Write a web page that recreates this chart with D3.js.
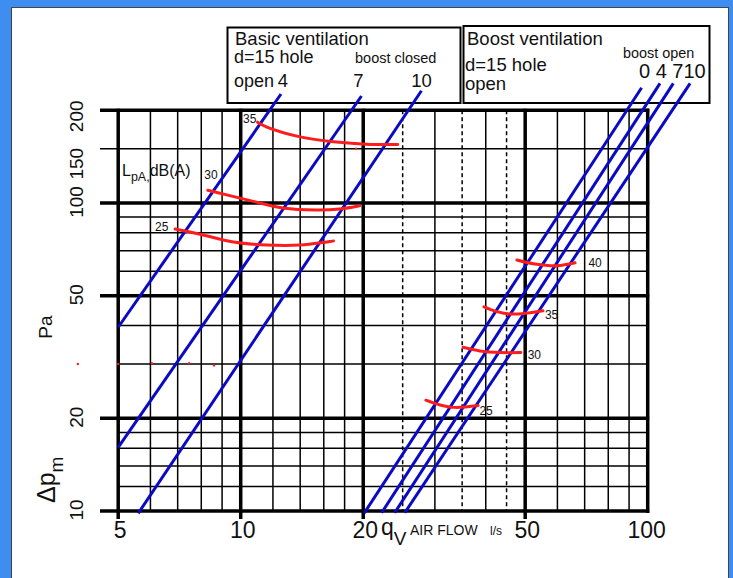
<!DOCTYPE html>
<html lang="en">
<head>
<meta charset="UTF-8">
<title>Pressure drop / air flow diagram</title>
<script src="https://cdnjs.cloudflare.com/ajax/libs/d3/7.8.5/d3.min.js"></script>
<style>
    * { margin: 0; padding: 0; box-sizing: border-box; }
    body { background: #3d8ef0; overflow: hidden; }
    svg { display: block; }
    text { font-family: Arial, "Liberation Sans", sans-serif; fill: #111; }
</style>
</head>
<body>
<svg id="chart" width="733" height="578"></svg>
<script>
// axis ticks and grid (l/s on x, Pa on y)
const xTicks = [5, 10, 20, 50, 100];
const yTicks = [10, 20, 50, 100, 150, 200];
const xGrid = [5, 6, 7, 8, 9, 10, 12, 14, 16, 18, 20, 30, 40, 50, 60, 70, 80, 90, 100];
const xDashed = [25, 35, 45];
const xMajor = [5, 10, 20, 50, 100];
const yGrid = [10, 12, 14, 16, 18, 20, 30, 40, 50, 60, 70, 80, 90, 100, 150, 200];
const yMajor = [10, 20, 50, 100, 200];

// basic ventilation (boost closed) characteristic lines: [flow, pressure]
const basicNames = ["4", "7", "10"];
const basicLines = [
    [[5, 39.5], [12.56, 225.9]],
    [[5, 16.1], [19.8, 222.6]],
    [[5.6, 9.83], [27.8, 231.5]]
];

// boost ventilation (boost open) characteristic lines
const boostNames = ["0", "4", "7", "10"];
const boostLines = [
    [[20.1, 9.83], [96.6, 236.8]],
    [[22.2, 9.87], [107.2, 244.7]],
    [[23.9, 9.87], [115.6, 244.7]],
    [[25.3, 9.87], [127.1, 244.7]]
];

// sound level curves LpA dB(A)
const noiseLevels = [35, 30, 25, 40, 35, 30, 25];
const noiseCurves = [
    [[11.0, 183], [11.6, 176.5], [14.0, 164], [16.9, 158], [20.8, 155], [24.3, 155]],
    [[8.3, 110], [10.5, 102], [12.7, 96.3], [15.4, 94.9], [17.5, 95.6], [19.6, 98]],
    [[6.9, 82.3], [7.9, 79.3], [9.6, 74.7], [11.6, 73], [14.0, 73], [16.9, 75.3]],
    [[47.7, 65.3], [52.8, 63.4], [59.8, 62.6], [66.3, 64]],
    [[39.6, 46], [42.6, 44.4], [45.9, 43.6], [50.5, 43.9], [55.3, 44.7]],
    [[35.2, 34], [38.7, 33.1], [43.4, 32.7], [48.8, 32.7]],
    [[28.5, 22.9], [30.9, 22.1], [33.6, 21.7], [38.3, 22]]
];
const noiseLabelAt = [
    [10.13, 181.8], [8.14, 119.6], [6.16, 81.3],
    [71.5, 62.2], [55.9, 42.0], [50.7, 31.2], [38.6, 20.5]
];
// small red specks in the original drawing
const strayDots = [[3.98, 30], [5, 30], [6.05, 30.2], [7.47, 30.2], [8.6, 29.7], [19.2, 150]];

const svg = d3.select("#chart");

const x = d3.scaleLog().domain([5, 100]).range([118.2, 647.7]);
const y = d3.scaleLog().domain([10, 200]).range([511, 110.3]);

// white sheet
svg.append("rect")
    .attr("x", 11.5).attr("y", 7.5)
    .attr("width", 717).attr("height", 580)
    .attr("fill", "#fff")
    .attr("stroke", "#444").attr("stroke-width", 1);

// legend boxes (drawn first, the lines run up into them)
svg.append("rect")
    .attr("x", 227.5).attr("y", 27.5).attr("width", 233).attr("height", 75.5)
    .attr("fill", "#fff").attr("stroke", "#000").attr("stroke-width", 2);
svg.append("rect")
    .attr("x", 463.5).attr("y", 26).attr("width", 246).attr("height", 77)
    .attr("fill", "#fff").attr("stroke", "#000").attr("stroke-width", 2);

const grid = svg.append("g");

// thin horizontal lines
grid.selectAll(".hmin")
    .data(yGrid.filter(v => !yMajor.includes(v)))
    .join("line")
    .attr("x1", v => v === 150 ? 100 : x(5)).attr("x2", x(100))
    .attr("y1", v => y(v)).attr("y2", v => y(v))
    .attr("stroke", "#000").attr("stroke-width", 1.5);

// thin vertical lines
grid.selectAll(".vmin")
    .data(xGrid.filter(v => !xMajor.includes(v)))
    .join("line")
    .attr("x1", v => x(v)).attr("x2", v => x(v))
    .attr("y1", y(200)).attr("y2", y(10))
    .attr("stroke", "#000").attr("stroke-width", 1.5);

// dashed verticals
grid.selectAll(".vdash")
    .data(xDashed)
    .join("line")
    .attr("x1", v => x(v)).attr("x2", v => x(v))
    .attr("y1", y(200)).attr("y2", y(10))
    .attr("stroke", "#000").attr("stroke-width", 1.5)
    .attr("stroke-dasharray", "4,3");

// heavy lines
grid.selectAll(".hmaj")
    .data(yMajor)
    .join("line")
    .attr("x1", 100).attr("x2", x(100) + 1.5)
    .attr("y1", v => y(v)).attr("y2", v => y(v))
    .attr("stroke", "#000").attr("stroke-width", 3.5);

grid.selectAll(".vmaj")
    .data(xMajor)
    .join("line")
    .attr("x1", v => x(v)).attr("x2", v => x(v))
    .attr("y1", y(200) - 1.5).attr("y2", v => v === 100 ? y(10) + 2 : y(10) + 8)
    .attr("stroke", "#000").attr("stroke-width", 3.5);

// characteristic lines
const line = d3.line().x(d => x(d[0])).y(d => y(d[1]));

svg.append("g").selectAll("path")
    .data(basicLines.concat(boostLines))
    .join("path")
    .attr("d", line)
    .attr("fill", "none")
    .attr("stroke", "#0a0ac4")
    .attr("stroke-width", 3);

// sound curves
const curve = d3.line().x(d => x(d[0])).y(d => y(d[1])).curve(d3.curveCatmullRom);

svg.append("g").selectAll("path")
    .data(noiseCurves)
    .join("path")
    .attr("d", curve)
    .attr("fill", "none")
    .attr("stroke", "#ff1c1c")
    .attr("stroke-width", 3)
    .attr("stroke-linecap", "round");

svg.append("g").selectAll("text")
    .data(noiseLevels)
    .join("text")
    .attr("x", (d, i) => x(noiseLabelAt[i][0]))
    .attr("y", (d, i) => y(noiseLabelAt[i][1]))
    .attr("font-size", 12)
    .text(d => d);

svg.append("g").selectAll("circle")
    .data(strayDots)
    .join("circle")
    .attr("cx", d => x(d[0])).attr("cy", d => y(d[1]))
    .attr("r", 1.2)
    .attr("fill", "#ff1c1c");

// y tick labels (rotated)
const yNudge = { 150: 15, 200: 6 };
svg.append("g").selectAll("text")
    .data(yTicks)
    .join("text")
    .attr("transform", v => `translate(83,${y(v) + (yNudge[v] || -1)}) rotate(-90)`)
    .attr("text-anchor", "middle")
    .attr("font-size", 19)
    .text(v => v);

// x tick labels
svg.append("g").selectAll("text")
    .data(xTicks)
    .join("text")
    .attr("x", v => x(v) + (v === 100 ? -1 : 2))
    .attr("y", 538)
    .attr("text-anchor", "middle")
    .attr("font-size", 23)
    .text(v => v);

// axis titles
svg.append("text")
    .attr("transform", "translate(52,327) rotate(-90)")
    .attr("text-anchor", "middle")
    .attr("font-size", 19)
    .text("Pa");

const dp = svg.append("text")
    .attr("transform", "translate(55,503) rotate(-90)")
    .attr("font-size", 25);
dp.append("tspan").text("\u0394p");
dp.append("tspan").attr("font-size", 19).attr("dy", 8).text("m");

const qv = svg.append("text").attr("x", 381).attr("y", 535).attr("font-size", 23);
qv.append("tspan").text("q");
qv.append("tspan").attr("font-size", 19).attr("dy", 10).text("V");
svg.append("text").attr("x", 410).attr("y", 535).attr("font-size", 14).text("AIR FLOW");
svg.append("text").attr("x", 490).attr("y", 535).attr("font-size", 12).text("l/s");

const lp = svg.append("text").attr("x", 122).attr("y", 176).attr("font-size", 16);
lp.append("tspan").text("L");
lp.append("tspan").attr("font-size", 12.5).attr("dy", 5).text("pA,");
lp.append("tspan").attr("dy", -5).text("dB(A)");

// box texts
svg.append("text").attr("x", 235).attr("y", 45).attr("font-size", 18.5).text("Basic ventilation");
svg.append("text").attr("x", 234).attr("y", 62.5).attr("font-size", 18).text("d=15 hole");
svg.append("text").attr("x", 355).attr("y", 62.5).attr("font-size", 14.5).text("boost closed");
svg.append("text").attr("x", 234).attr("y", 86.5).attr("font-size", 18).text("open");

// line names above the top end of each basic line
const nameShift = [2, -3, 0];
svg.append("g").selectAll("text")
    .data(basicNames)
    .join("text")
    .attr("x", (d, i) => x(basicLines[i][1][0]) + nameShift[i])
    .attr("y", 86.5)
    .attr("text-anchor", "middle")
    .attr("font-size", 18.5)
    .text(d => d);

svg.append("text").attr("x", 467).attr("y", 45).attr("font-size", 18.5).text("Boost ventilation");
svg.append("text").attr("x", 465).attr("y", 71).attr("font-size", 18.5).text("d=15 hole");
svg.append("text").attr("x", 465).attr("y", 90).attr("font-size", 18.5).text("open");
svg.append("text").attr("x", 623).attr("y", 57.5).attr("font-size", 14.4).text("boost open");
svg.append("text").attr("x", 639).attr("y", 77.5).attr("font-size", 20).text(boostNames.join(" ").replace("7 10", "710"));
</script>
</body>
</html>
